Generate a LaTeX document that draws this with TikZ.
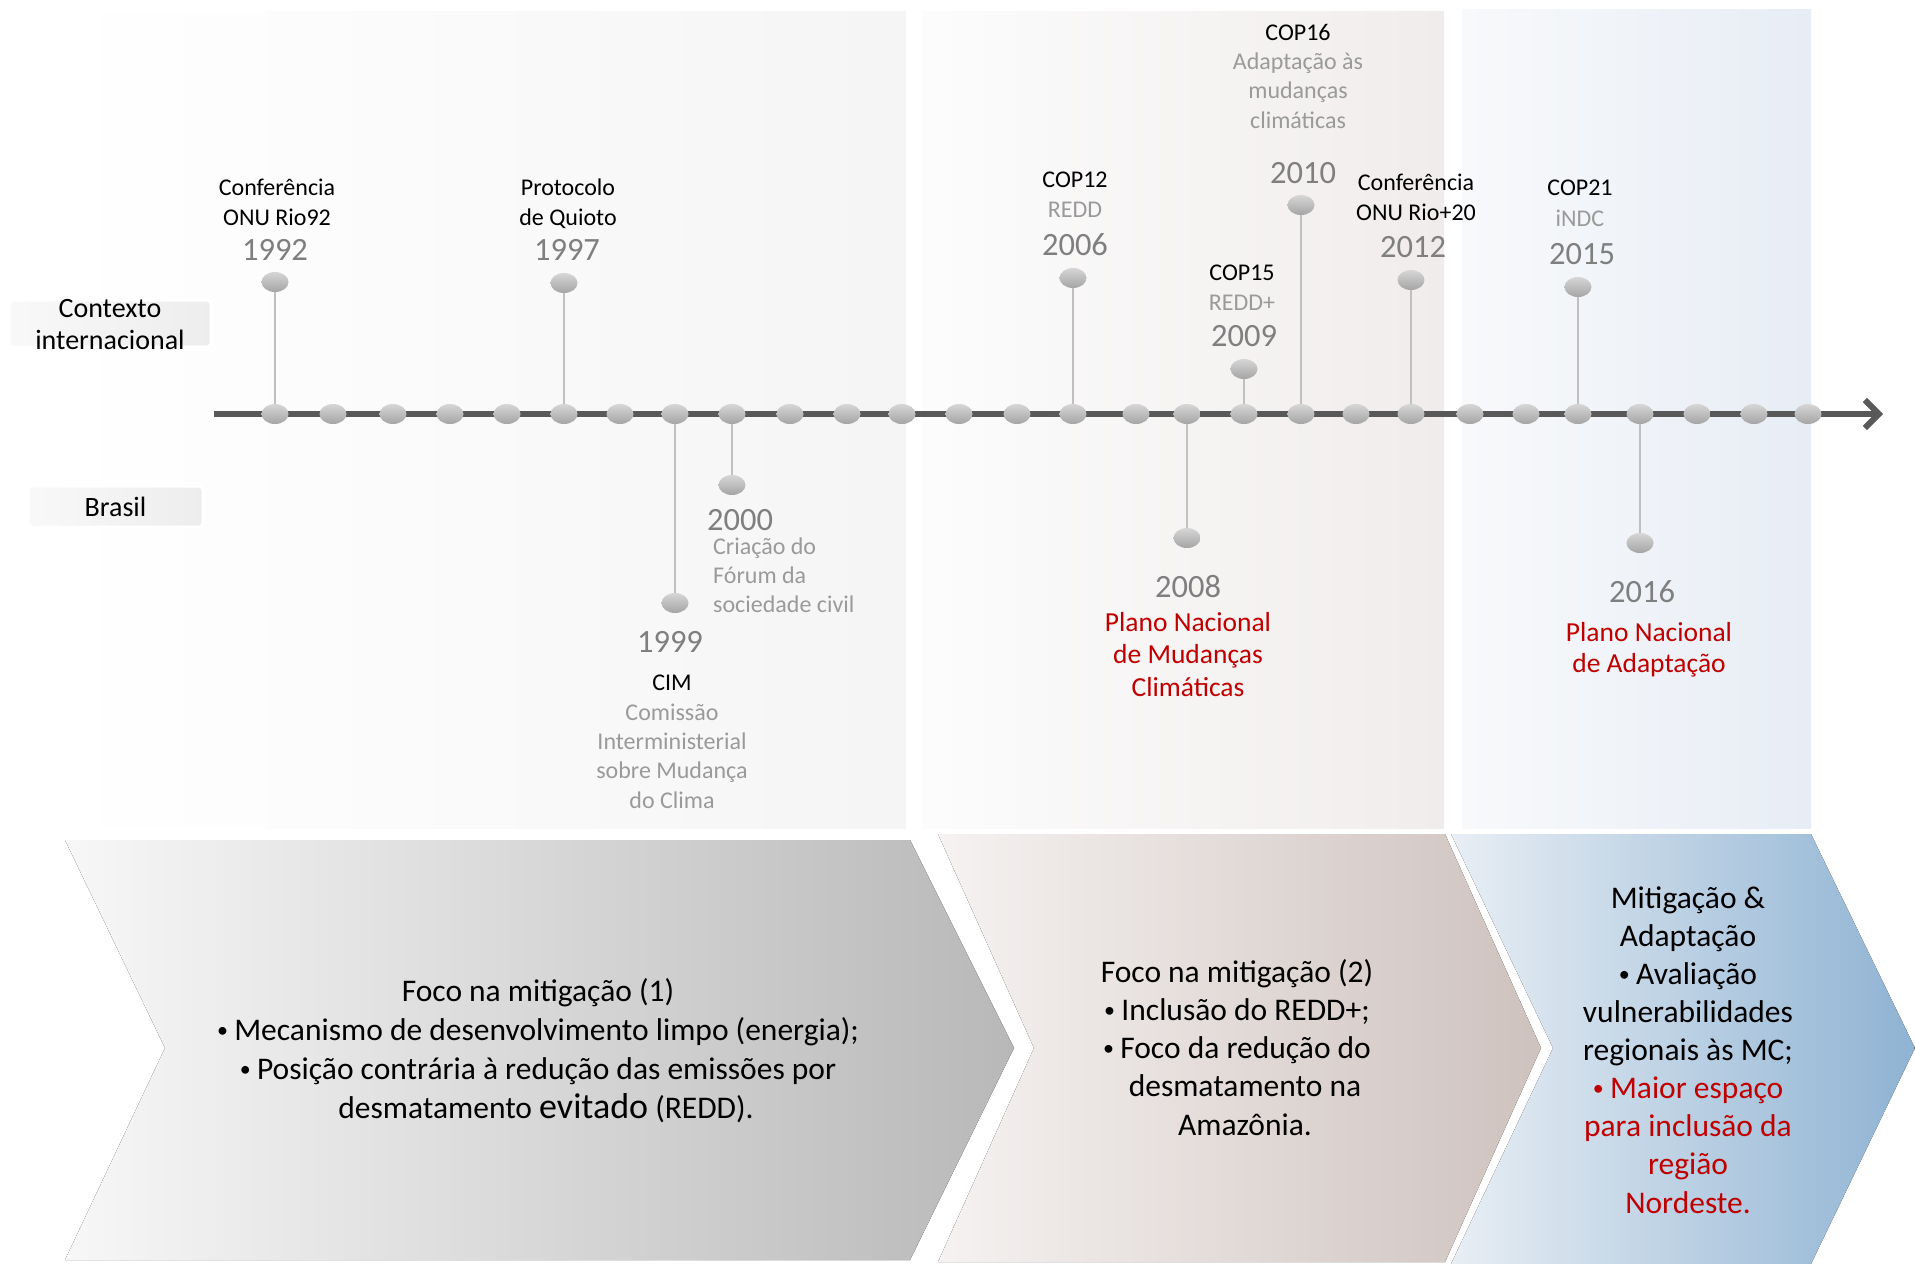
\documentclass[tikz,border=0pt]{standalone}
\usepackage{fontspec}
\setmainfont{Carlito}
\usetikzlibrary{arrows.meta,shapes.geometric}
\definecolor{linegray}{HTML}{595959}
\definecolor{stalkgray}{HTML}{C0C0C0}
\definecolor{subgray}{HTML}{9A9A9A}
\definecolor{yeargray}{HTML}{7F7F7F}
\definecolor{redtxt}{HTML}{C00000}
\definecolor{dottop}{HTML}{D6D6D6}
\definecolor{dotbot}{HTML}{A4A4A4}
\newcommand\mybul{\raisebox{3pt}{\fontsize{22}{22}\selectfont•}\hspace{0.2em}}
\pgfdeclarelayer{bg}
\pgfsetlayers{bg,main}
\tikzset{
  dotsty/.style={ellipse, minimum width=27, minimum height=20, inner sep=0, top color=dottop, bottom color=dotbot, draw=none},
  stalk/.style={draw=stalkgray, line width=1.6},
  evt/.style={font=\fontsize{24}{30}\selectfont, align=center, anchor=base, inner sep=0},
  yr/.style={font=\fontsize{32.5}{36}\selectfont, text=yeargray, anchor=base, inner sep=0},
  redlbl/.style={font=\fontsize{27.5}{32.5}\selectfont, text=redtxt, align=center, anchor=base, inner sep=0},
  chevtxt/.style={font=\fontsize{31.5}{39}\selectfont, align=center, anchor=base, inner sep=0},
  lbox/.style={rounded corners=4, left color=white!95!gray, right color=white!86!gray, draw=white, line width=3},
  lbltxt/.style={font=\fontsize{28}{32}\selectfont, align=center, anchor=base, inner sep=0}
}
\begin{document}
\begin{tikzpicture}[x=1pt,y=-1pt]
\useasboundingbox (0,0) rectangle (1915,1264);
\begin{pgfonlayer}{bg}
  % background panels
  \fill[left color=white, right color=white!92!gray] (60,11) rectangle (906,828);
  \fill[left color=white!98!gray, right color={rgb,255:red,240;green,236;blue,235}] (922,11) rectangle (1444,828);
  \fill[left color={rgb,255:red,248;green,249;blue,251}, right color={rgb,255:red,231;green,237;blue,245}] (1462,9) rectangle (1811,828);
  % chevrons
  \fill[left color={rgb,255:red,247;green,247;blue,247}, right color={rgb,255:red,184;green,184;blue,184}]
    (65,840) -- (910,840) -- (1014,1048) -- (910,1260) -- (65,1260) -- (165,1048) -- cycle;
  \fill[left color={rgb,255:red,245;green,242;blue,241}, right color={rgb,255:red,206;green,194;blue,190}]
    (938,834) -- (1445,834) -- (1541,1048) -- (1445,1262) -- (938,1262) -- (1034,1048) -- cycle;
  \fill[left color={rgb,255:red,232;green,238;blue,244}, right color={rgb,255:red,143;green,179;blue,211}]
    (1451,834) -- (1811,834) -- (1915,1048) -- (1811,1264) -- (1451,1264) -- (1553,1048) -- cycle;
\end{pgfonlayer}

% label boxes
\node[lbox, minimum width=202, minimum height=47, inner sep=0] (ctxbox) at (110,323.5) {};
\node[lbltxt] (ctx) at (110,349) {Contexto\\internacional};
\node[lbox, minimum width=175, minimum height=41, inner sep=0] (brbox) at (115.5,506.5) {};
\node[lbltxt] (br) at (115.5,516) {Brasil};

% timeline
\coordinate (tlstart) at (214,414);
\coordinate (tlend) at (1883,414);
\begin{pgfonlayer}{bg}
  \draw[linegray, line width=6, -{Straight Barb[length=14, width=28, line width=6]}] (tlstart) -- (tlend);
\end{pgfonlayer}
\foreach \x [count=\i from 0] in {275,333,393,450,507,564,620,675,732,790,847,902,959,1017,1073,1136,1187,1244,1301,1356,1411,1470,1526,1578,1640,1697,1754,1808}
  \node[dotsty] (d\i) at (\x,414) {};

% stalk end dots
\node[dotsty] (e1992) at (275,282) {};
\node[dotsty] (e1997) at (564,283) {};
\node[dotsty] (e1999) at (675,603) {};
\node[dotsty] (e2000) at (732,485) {};
\node[dotsty] (e2006) at (1073,278) {};
\node[dotsty] (e2008) at (1187,538) {};
\node[dotsty] (e2009) at (1244,369) {};
\node[dotsty] (e2010) at (1301,205) {};
\node[dotsty] (e2012) at (1411,280) {};
\node[dotsty] (e2015) at (1578,287) {};
\node[dotsty] (e2016) at (1640,543) {};
\begin{pgfonlayer}{bg}
  \draw[stalk] (d0.center) -- (e1992.center);
  \draw[stalk] (d5.center) -- (e1997.center);
  \draw[stalk] (d7.center) -- (e1999.center);
  \draw[stalk] (d8.center) -- (e2000.center);
  \draw[stalk] (d14.center) -- (e2006.center);
  \draw[stalk] (d16.center) -- (e2008.center);
  \draw[stalk] (d17.center) -- (e2009.center);
  \draw[stalk] (d18.center) -- (e2010.center);
  \draw[stalk] (d20.center) -- (e2012.center);
  \draw[stalk] (d23.center) -- (e2015.center);
  \draw[stalk] (d24.center) -- (e2016.center);
\end{pgfonlayer}

% international events
\node[evt] (t1992) at (277,225) {Conferência\\ONU Rio92};
\node[yr] (y1992) at (275,260) {1992};
\node[evt] (t1997) at (568,225) {Protocolo\\de Quioto};
\node[yr] (y1997) at (567,260) {1997};
\node[evt, font=\fontsize{24}{29.5}\selectfont] (t2006) at (1075,217) {COP12\\\textcolor{subgray}{REDD}};
\node[yr] (y2006) at (1075,255) {2006};
\node[evt, font=\fontsize{24}{29.5}\selectfont] (t2009) at (1242,310) {COP15\\\textcolor{subgray}{REDD+}};
\node[yr] (y2009) at (1244,346) {2009};
\node[evt, font=\fontsize{24}{29.3}\selectfont] (t2010) at (1298,128) {COP16\\\textcolor{subgray}{Adaptação às}\\\textcolor{subgray}{mudanças}\\\textcolor{subgray}{climáticas}};
\node[yr] (y2010) at (1303,183) {2010};
\node[evt] (t2012) at (1416,220) {Conferência\\ONU Rio+20};
\node[yr] (y2012) at (1413,257) {2012};
\node[evt, font=\fontsize{24}{31}\selectfont] (t2015) at (1580,226) {COP21\\\textcolor{subgray}{iNDC}};
\node[yr] (y2015) at (1582,264) {2015};

% Brazil events
\node[yr, anchor=base west] (y2000) at (707,530) {2000};
\node[evt, anchor=base west, align=left, text=subgray, font=\fontsize{24}{29}\selectfont] (t2000) at (713,612) {Criação do\\Fórum da\\sociedade civil};
\node[yr] (y1999) at (670,652) {1999};
\node[evt, font=\fontsize{24}{29.3}\selectfont] (t1999) at (672,808) {CIM\\\textcolor{subgray}{Comissão}\\\textcolor{subgray}{Interministerial}\\\textcolor{subgray}{sobre Mudança}\\\textcolor{subgray}{do Clima}};
\node[yr] (y2008) at (1188,597) {2008};
\node[redlbl] (t2008) at (1188,696) {Plano Nacional\\de Mudanças\\Climáticas};
\node[yr] (y2016) at (1642,602) {2016};
\node[redlbl, font=\fontsize{27.5}{31}\selectfont] (t2016) at (1649,672) {Plano Nacional\\de Adaptação};

% chevron texts
\node[chevtxt] (c1) at (538,1118) {Foco na mitigação (1)\\\mybul Mecanismo de desenvolvimento limpo (energia);\\\mybul Posição contrária à redução das emissões por\\\hspace*{16pt}desmatamento {\fontsize{36}{39}\selectfont evitado} (REDD).};
\node[chevtxt, font=\fontsize{31.5}{38.25}\selectfont] (c2) at (1237,1135) {Foco na mitigação (2)\\\mybul Inclusão do REDD+;\\\mybul Foco da redução do\\\hspace*{16pt}desmatamento na\\\hspace*{16pt}Amazônia.};
\node[chevtxt, font=\fontsize{31.5}{38.1}\selectfont] (c3) at (1688,1213) {Mitigação \&\\Adaptação\\\mybul Avaliação\\vulnerabilidades\\regionais às MC;\\\textcolor{redtxt}{\mybul Maior espaço}\\\textcolor{redtxt}{para inclusão da}\\\textcolor{redtxt}{região}\\\textcolor{redtxt}{Nordeste.}};
\end{tikzpicture}
\end{document}
